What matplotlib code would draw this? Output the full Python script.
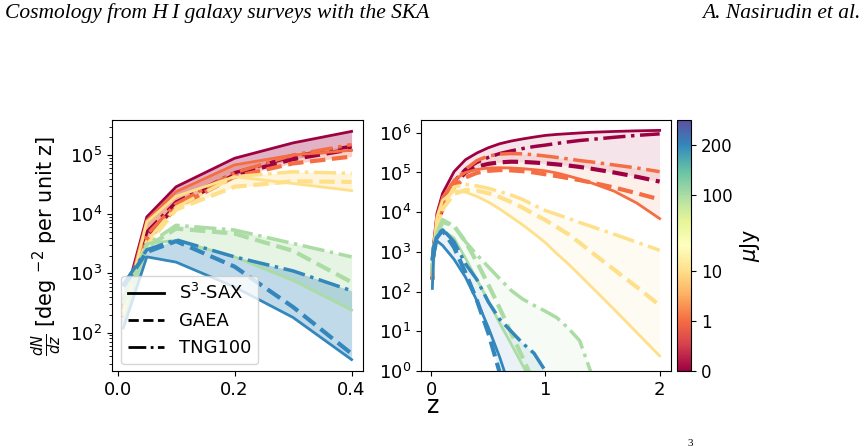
import numpy as np
import matplotlib
matplotlib.use("Agg")
import matplotlib.pyplot as plt
from matplotlib.colors import FuncNorm
from matplotlib.cm import ScalarMappable
from matplotlib.lines import Line2D

# ---------------- data ----------------
flux = [0, 1, 10, 100, 200]                       # flux thresholds (uJy)
cbar_vals = [0, 1, 10, 100, 200, 250]              # colour-scale anchor values
cbar_pos = [0.0, 0.2, 0.4, 0.7, 0.9, 1.0]          # colour-scale anchor positions

models = ["S$^3$-SAX", "GAEA", "TNG100"]

z_left = [0.01, 0.05, 0.1, 0.2, 0.3, 0.4]
left_sax = [
    [300, 9.0e3, 2.9e4, 8.8e4, 1.6e5, 2.5e5],
    [250, 7.9e3, 2.4e4, 6.8e4, 1.0e5, 1.2e5],
    [200, 7.4e3, 2.0e4, 4.3e4, 3.3e4, 2.5e4],
    [150, 3.2e3, 3.6e3, 1.9e3, 7.6e2, 2.4e2],
    [120, 1.9e3, 1.55e3, 5.9e2, 1.8e2, 35],
]
left_gaea = [
    [180, 4.0e3, 1.4e4, 4.6e4, 8.5e4, 1.25e5],
    [200, 3.5e3, 1.3e4, 4.3e4, 7.2e4, 9.4e4],
    [220, 3.0e3, 1.2e4, 2.9e4, 3.6e4, 3.5e4],
    [300, 2.8e3, 5.7e3, 4.7e3, 2.4e3, 7.1e2],
    [600, 2.3e3, 3.5e3, 1.3e3, 2.7e2, 44],
]
left_tng = [
    [250, 5.0e3, 1.6e4, 5.0e4, 9.5e4, 1.4e5],
    [350, 4.5e3, 1.5e4, 5.0e4, 1.0e5, 1.5e5],
    [300, 3.5e3, 1.3e4, 4.3e4, 5.2e4, 4.9e4],
    [400, 3.0e3, 6.5e3, 5.4e3, 3.2e3, 1.9e3],
    [650, 2.5e3, 3.7e3, 1.9e3, 1.1e3, 5.1e2],
]

z_right = [0.01, 0.02, 0.05, 0.1, 0.2, 0.3, 0.4, 0.5, 0.6, 0.7, 0.8, 0.9,
           1.0, 1.1, 1.2, 1.3, 1.4, 1.6, 1.8, 2.0]
right_sax = [
    [300, 1500, 9.3e3, 3.0e4, 1.05e5, 2.1e5, 3.1e5, 4.2e5, 5.3e5, 6.2e5, 7.0e5, 7.8e5,
     8.6e5, 9.1e5, 9.5e5, 9.9e5, 1.03e6, 1.08e6, 1.12e6, 1.15e6],
    [250, 1300, 8.0e3, 2.4e4, 6.5e4, 1.0e5, 1.2e5, 1.3e5, 1.32e5, 1.3e5, 1.25e5, 1.18e5,
     1.1e5, 9.7e4, 8.2e4, 6.8e4, 5.5e4, 3.4e4, 1.7e4, 6.9e3],
    [200, 1200, 7.4e3, 2.0e4, 3.5e4, 3.2e4, 2.5e4, 1.8e4, 1.2e4, 7.6e3, 4.8e3, 2.9e3,
     1.7e3, 9.0e2, 5.0e2, 2.6e2, 1.35e2, 36, 9.3, 2.4],
    [150, 1000, 3.2e3, 3.6e3, 2.2e3, 6.9e2, 2.0e2, 58, 16, 4.8, 1.4, 0.4,
     0.1, 0.03, 0.01, 3e-3, 1e-3, 1e-4, 1e-5, 1e-6],
    [120, 700, 1.9e3, 1.45e3, 6.5e2, 2.3e2, 59, 12.5, 2.2, 0.3, 0.04, 5e-3,
     6e-4, 1e-4, 1e-5, 1e-6, 1e-7, 1e-8, 1e-9, 1e-10],
]
right_gaea = [
    [200, 1100, 4.0e3, 1.4e4, 5.0e4, 1.0e5, 1.4e5, 1.65e5, 1.8e5, 1.87e5, 1.85e5, 1.78e5,
     1.7e5, 1.6e5, 1.5e5, 1.38e5, 1.25e5, 1.0e5, 7.8e4, 5.9e4],
    [220, 1000, 3.5e3, 1.3e4, 4.3e4, 7.5e4, 9.8e4, 1.1e5, 1.15e5, 1.13e5, 1.08e5, 1.0e5,
     9.0e4, 8.1e4, 7.2e4, 6.4e4, 5.6e4, 4.2e4, 3.0e4, 2.1e4],
    [240, 1000, 3.0e3, 1.2e4, 2.9e4, 3.6e4, 3.5e4, 3.0e4, 2.4e4, 1.8e4, 1.3e4, 9.0e3,
     6.3e3, 4.2e3, 2.8e3, 1.7e3, 1.0e3, 3.6e2, 1.3e2, 45],
    [300, 1100, 2.8e3, 5.7e3, 4.5e3, 1.8e3, 5.5e2, 1.5e2, 38, 9, 2.2, 0.5,
     0.1, 0.02, 4e-3, 1e-3, 2e-4, 1e-5, 1e-6, 1e-7],
    [600, 1000, 2.3e3, 3.5e3, 1.3e3, 3.0e2, 60, 9, 0.9, 0.08, 7e-3, 6e-4,
     5e-5, 5e-6, 5e-7, 5e-8, 5e-9, 1e-10, 1e-11, 1e-12],
]
right_tng = [
    [250, 1200, 5.0e3, 1.8e4, 6.0e4, 1.2e5, 1.8e5, 2.4e5, 3.0e5, 3.5e5, 4.0e5, 4.5e5,
     4.9e5, 5.4e5, 5.9e5, 6.4e5, 6.8e5, 7.7e5, 8.6e5, 9.4e5],
    [350, 1300, 4.5e3, 1.6e4, 5.5e4, 1.2e5, 2.0e5, 2.6e5, 2.9e5, 3.0e5, 2.95e5, 2.8e5,
     2.6e5, 2.4e5, 2.2e5, 2.0e5, 1.85e5, 1.55e5, 1.3e5, 1.05e5],
    [300, 1200, 3.5e3, 1.3e4, 4.3e4, 5.0e4, 4.6e4, 4.0e4, 3.3e4, 2.7e4, 2.1e4, 1.5e4,
     1.1e4, 8.8e3, 7.0e3, 5.5e3, 4.4e3, 2.8e3, 1.75e3, 1.1e3],
    [400, 1300, 3.0e3, 6.5e3, 4.5e3, 1.8e3, 8.5e2, 4.2e2, 2.1e2, 1.07e2, 65, 45,
     32, 22, 12, 5.8, 0.9, 0.02, 5e-4, 1e-5],
    [650, 1300, 2.5e3, 3.7e3, 1.8e3, 5.0e2, 2.0e2, 55, 20, 10, 5, 2.8,
     1.0, 0.1, 0.01, 1e-3, 1e-4, 1e-6, 1e-8, 1e-10],
]

# ---------------- figure ----------------
W, H = 867, 446
fig = plt.figure(figsize=(W / 100, H / 100), dpi=100)

def fw(x0, x1, y0, y1):
    return [x0 / W, 1 - y1 / H, (x1 - x0) / W, (y1 - y0) / H]

axL = fig.add_axes(fw(112, 363, 120, 371))
axR = fig.add_axes(fw(421, 671, 120, 371))
cax = fig.add_axes(fw(677, 691, 120, 371))

cmap = plt.get_cmap("Spectral")
norm = FuncNorm((lambda v: np.interp(v, cbar_vals, cbar_pos),
                 lambda p: np.interp(p, cbar_pos, cbar_vals)),
                vmin=cbar_vals[0], vmax=cbar_vals[-1])

styles = [("-", 2.0), ("--", 3.0), ("-.", 2.5)]

def draw(ax, z, sets, alpha):
    for i, f in enumerate(flux):
        c = cmap(norm(f))
        ys = [np.asarray(s[i], float) for s in sets]
        for y, (ls, lw) in zip(ys, styles):
            ax.plot(z, y, ls=ls, lw=lw, color=c)
        stack = np.vstack(ys)
        ax.fill_between(z, stack.min(axis=0), stack.max(axis=0), color=c,
                        alpha=alpha, lw=0)
    ax.set_yscale("log")
    ax.tick_params(labelsize=13)

draw(axL, z_left, [left_sax, left_gaea, left_tng], 0.3)
draw(axR, z_right, [right_sax, right_gaea, right_tng], 0.1)

axL.set_xticks([0.0, 0.2, 0.4])
axR.set_xticks([0, 1, 2])
axR.set_ylim(1, 2.1e6)
axR.set_yticks([10.0 ** k for k in range(7)])

axL.set_ylabel(r"$\frac{dN}{dz}$ [deg $^{-2}$ per unit z]", fontsize=15)

# legend
handles = [Line2D([], [], color="k", ls=ls, lw=2) for ls, _ in styles]
axL.legend(handles, models, loc="lower left", fontsize=13,
           bbox_to_anchor=(0.0, -0.01), borderaxespad=0.5)

# colorbar
sm = ScalarMappable(norm=norm, cmap=cmap)
cb = fig.colorbar(sm, cax=cax, ticks=flux)
cb.ax.set_yticklabels([f"{v:g}" for v in flux])
cb.ax.tick_params(labelsize=12)
cb.ax.minorticks_off()
cb.set_label(r"$\mu$Jy", fontsize=15)

fig.text(433 / W, 1 - 406 / H, "z", fontsize=17, ha="center", va="center")

# page header
fig.text(5 / W, 1 - 13 / H, "Cosmology from H\u2009I galaxy surveys with the SKA",
         family="Liberation Serif", style="italic", fontsize=15.5,
         ha="left", va="center")
fig.text(861 / W, 1 - 13 / H, "A. Nasirudin et al.",
         family="Liberation Serif", style="italic", fontsize=15.5,
         ha="right", va="center")
fig.text(690 / W, 1 - 444 / H, "3", family="Liberation Serif", fontsize=8,
         ha="center", va="center")

fig.savefig("out.png", dpi=100)
